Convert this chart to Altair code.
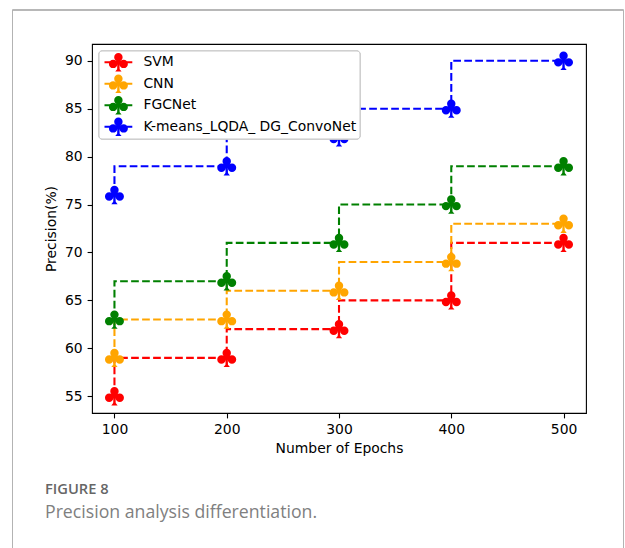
import altair as alt
import pandas as pd

epochs = [100, 200, 300, 400, 500]
series_names = ["SVM", "CNN", "FGCNet", "K-means_LQDA_ DG_ConvoNet"]
svm = [55, 59, 62, 65, 71]
cnn = [59, 63, 66, 69, 73]
fgcnet = [63, 67, 71, 75, 79]
kmeans = [76, 79, 82, 85, 90]
colors = ["#ff0000", "#ffa500", "#008000", "#0000ff"]
y_ticks = [55, 60, 65, 70, 75, 80, 85, 90]

rows = []
for name, vals in zip(series_names, [svm, cnn, fgcnet, kmeans]):
    for e, v in zip(epochs, vals):
        rows.append({"epoch": e, "precision": v, "model": name})
df = pd.DataFrame(rows)
leg_df = pd.DataFrame({"model": series_names, "row": list(range(len(series_names)))})


def circle(cx, cy, r):
    return (f"M{cx - r},{cy} A{r},{r} 0 1,1 {cx + r},{cy} "
            f"A{r},{r} 0 1,1 {cx - r},{cy} Z ")


CLUB = (circle(0, -0.47, 0.4) + circle(-0.5, 0.15, 0.4) + circle(0.5, 0.15, 0.4)
        + "M0,-0.47 L0.5,0.15 L-0.5,0.15 Z "
        + "M-0.1,0.1 L0.1,0.1 L0.12,0.65 L0.3,0.87 L-0.3,0.87 L-0.12,0.65 Z")

color_scale = alt.Scale(domain=series_names, range=colors)
x_scale = alt.Scale(domain=[80, 520], nice=False, zero=False)
y_scale = alt.Scale(domain=[53.25, 91.75], nice=False, zero=False)

x_enc = alt.X("epoch:Q", scale=x_scale,
              axis=alt.Axis(values=epochs, title="Number of Epochs", format="d",
                            tickSize=4.9, tickWidth=1.1, tickColor="black",
                            labelPadding=4.5, titlePadding=5, domain=False, grid=False))
y_axis_enc = alt.Y("precision:Q", scale=y_scale,
                   axis=alt.Axis(values=y_ticks, title="Precision(%)",
                                 tickSize=4.9, tickWidth=1.1, tickColor="black",
                                 labelPadding=5, titlePadding=5.5, domain=False, grid=False))
y_noaxis_enc = alt.Y("precision:Q", scale=y_scale, axis=None)

lines = alt.Chart(df).mark_line(
    interpolate="step-before", strokeDash=[7.7, 3.3], strokeWidth=2.08
).encode(
    x=x_enc, y=y_axis_enc,
    color=alt.Color("model:N", scale=color_scale, legend=None),
    detail="model:N",
)

points = alt.Chart(df).mark_point(
    filled=True, shape=CLUB, size=445, opacity=1
).encode(
    x=x_enc, y=y_noaxis_enc,
    color=alt.Color("model:N", scale=color_scale, legend=None),
)

frame = alt.Chart(leg_df).mark_rect(
    fill="transparent", stroke="#b3b3b3", strokeWidth=1
).encode(
    x=alt.value(-79.5), x2=alt.value(531.5), y=alt.value(-34), y2=alt.value(506)
)

# legend (upper left, inside the axes)
row_y = alt.Y("row:Q", scale=alt.Scale(domain=[0, len(series_names) - 1],
                                       range=[18.3, 82.8], nice=False, zero=False),
              axis=None)
leg_box = alt.Chart(leg_df).mark_rect(
    fill="white", fillOpacity=0.8, stroke="#cccccc", strokeWidth=1, cornerRadius=3
).encode(
    x=alt.value(7), x2=alt.value(268), y=alt.value(7), y2=alt.value(95)
)
leg_line = alt.Chart(leg_df).mark_rule(strokeWidth=2.08, strokeDash=[7.7, 3.3]).encode(
    x=alt.value(12.5), x2=alt.value(40.3), y=row_y,
    color=alt.Color("model:N", scale=color_scale, legend=None),
)
leg_pt = alt.Chart(leg_df).mark_point(filled=True, shape=CLUB, size=445, opacity=1).encode(
    x=alt.value(26.4), y=row_y,
    color=alt.Color("model:N", scale=color_scale, legend=None),
)
leg_txt = alt.Chart(leg_df).mark_text(
    align="left", baseline="middle", font="DejaVu Sans", fontSize=13.9, color="black"
).encode(
    x=alt.value(51.4), y=row_y, text="model:N",
)

chart = alt.layer(frame, lines, points, leg_box, leg_line, leg_pt, leg_txt).resolve_scale(
    y="independent"
).properties(
    width=494, height=369,
    padding={"left": 92, "top": 44, "right": 39, "bottom": 135},
    autosize=alt.AutoSizeParams(type="none"),
    title=alt.TitleParams(
        text="FIGURE 8", subtitle="Precision analysis differentiation.",
        orient="bottom", anchor="start", frame="group", dx=-47, offset=0, dy=-69,
        font="Open Sans", fontSize=14.7, fontWeight=600, color="#666666",
        subtitleFont="Open Sans", subtitleFontSize=17.7, subtitleColor="#808080",
        subtitleFontWeight="normal", subtitlePadding=8,
    ),
).configure_view(
    stroke="black", strokeWidth=1.1
).configure_axis(
    labelFont="DejaVu Sans", titleFont="DejaVu Sans", labelFontSize=13.9,
    titleFontSize=13.9, labelColor="black", titleColor="black",
    titleFontWeight="normal",
)

chart.save("out.html", embed_options={"renderer": "svg", "actions": False})
